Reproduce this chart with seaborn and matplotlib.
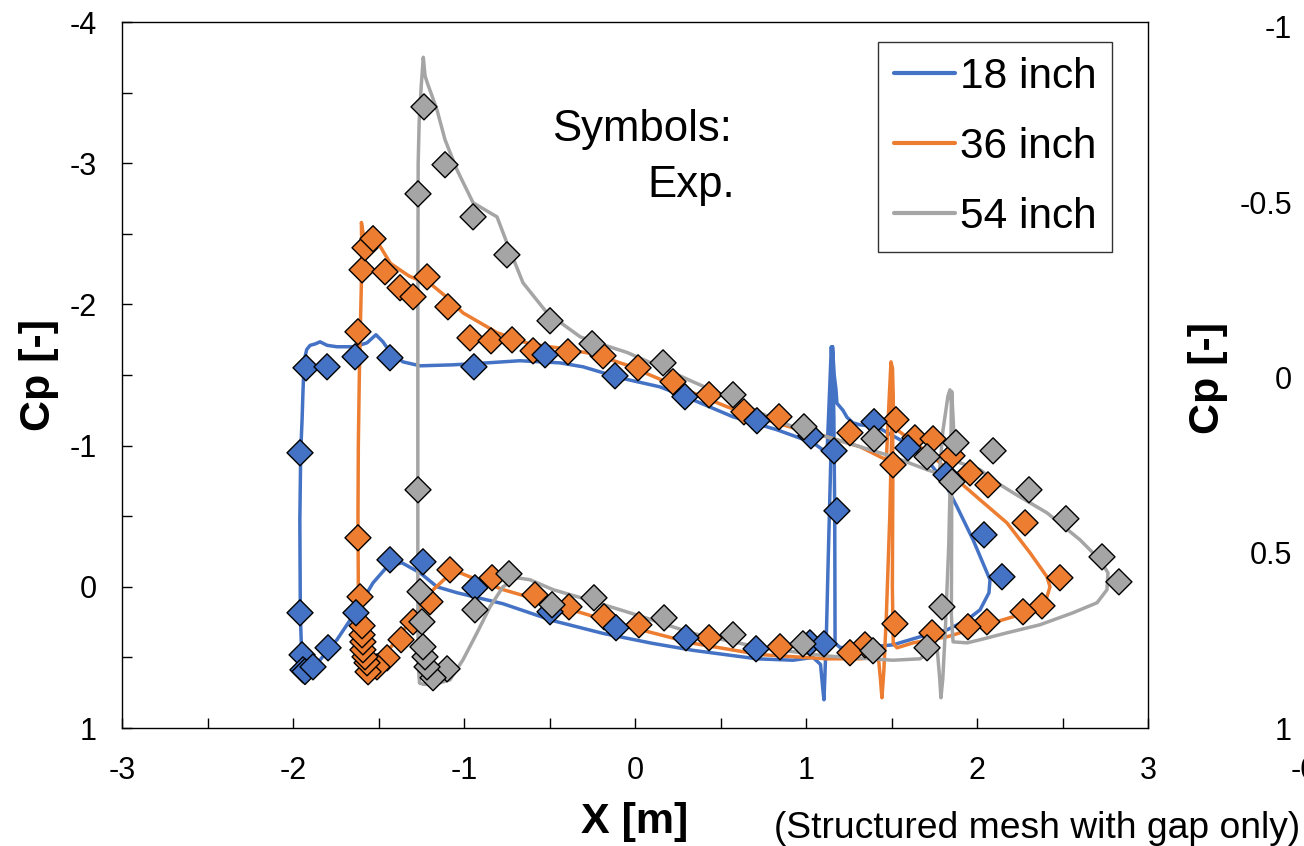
import numpy as np
import pandas as pd
import matplotlib
matplotlib.use("Agg")
import matplotlib.pyplot as plt
import seaborn as sns
from matplotlib.ticker import MultipleLocator, FixedLocator, FuncFormatter

# ---------------- data ----------------
series_names = ["18 inch", "36 inch", "54 inch"]
series_colors = ["#4472C4", "#ED7D31", "#A5A5A5"]

# CFD, 18 inch : tractor loop and trailer loop
cfd18_cab_x = [-1.93, -1.950, -1.957, -1.960, -1.955, -1.947, -1.942, -1.935, -1.920, -1.900, -1.870,
               -1.842, -1.800, -1.743, -1.637, -1.567, -1.515, -1.474, -1.433, -1.357, -1.257, -1.064,
               -0.865, -0.673, -0.439, -0.304, -0.088, 0.146, 0.339, 0.573, 0.830, 1.041, 1.123,
               1.140, 1.148, 1.152, 1.150, 1.145, 1.130, 1.120, 1.110, 1.105, 1.098, 1.085,
               1.041, 0.924, 0.713, 0.339, 0.100, -0.187, -0.480, -0.772, -1.041, -1.158, -1.257,
               -1.363, -1.450, -1.532, -1.626, -1.743, -1.850, -1.93]
cfd18_cab_cp = [0.60, 0.45, 0.20, -0.47, -0.95, -1.18, -1.37, -1.60, -1.68, -1.71, -1.72,
                -1.735, -1.71, -1.70, -1.70, -1.728, -1.785, -1.735, -1.664, -1.593, -1.565, -1.572,
                -1.586, -1.601, -1.586, -1.558, -1.480, -1.416, -1.324, -1.204, -1.112, -1.020, -0.949,
                -1.45, -1.70, -1.60, -1.30, -0.90, -0.20, 0.30, 0.65, 0.80, 0.72, 0.55,
                0.50, 0.52, 0.51, 0.45, 0.40, 0.33, 0.24, 0.12, 0.042, 0.0, -0.099,
                -0.170, -0.142, -0.028, 0.163, 0.375, 0.53, 0.60]
cfd18_trl_x = [1.155, 1.165, 1.175, 1.181, 1.216, 1.240, 1.275, 1.316, 1.415, 1.550, 1.708, 1.801,
               1.883, 1.977, 2.076, 2.070, 2.018, 1.942, 1.825, 1.667, 1.509, 1.316, 1.200, 1.170,
               1.168, 1.163, 1.155]
cfd18_trl_cp = [-1.70, -1.50, -1.40, -1.30, -1.25, -1.20, -1.161, -1.147, -1.133, -1.041, -0.899, -0.758,
                -0.567, -0.333, -0.050, 0.042, 0.163, 0.234, 0.305, 0.354, 0.411, 0.432, 0.43, 0.40,
                -0.50, -1.20, -1.70]

# CFD, 36 inch
cfd36_cab_x = [-1.58, -1.600, -1.612, -1.618, -1.620, -1.618, -1.612, -1.605, -1.600, -1.598, -1.600,
               -1.585, -1.560, -1.530, -1.490, -1.430, -1.320, -1.260, -1.200, -1.100, -1.006, -0.906,
               -0.807, -0.713, -0.614, -0.439, -0.246, -0.047, 0.146, 0.339, 0.538, 0.731, 0.924,
               1.123, 1.316, 1.433, 1.470, 1.485, 1.497, 1.505, 1.503, 1.490, 1.470, 1.455, 1.444,
               1.435, 1.425, 1.415, 1.316, 1.123, 0.731, 0.339, 0.020, -0.187, -0.380, -0.573,
               -0.772, -0.924, -1.023, -1.099, -1.199, -1.298, -1.392, -1.491, -1.567, -1.58]
cfd36_cab_cp = [0.62, 0.55, 0.40, 0.0, -0.5, -1.0, -1.5, -1.9, -2.15, -2.40, -2.58,
                -2.47, -2.45, -2.44, -2.41, -2.29, -2.20, -2.17, -2.15, -2.05, -1.94, -1.87,
                -1.80, -1.76, -1.72, -1.69, -1.65, -1.57, -1.47, -1.374, -1.275, -1.197, -1.126,
                -1.062, -0.992, -0.921, -0.90, -1.30, -1.593, -1.55, -1.20, -0.50, 0.20, 0.60, 0.786,
                0.65, 0.52, 0.50, 0.51, 0.51, 0.48, 0.40, 0.30, 0.23, 0.16, 0.09,
                0.02, -0.050, -0.099, -0.071, 0.042, 0.212, 0.375, 0.517, 0.609, 0.62]
cfd36_trl_x = [1.505, 1.510, 1.520, 1.532, 1.667, 1.784, 1.883, 2.018, 2.175, 2.310, 2.409, 2.427,
               2.409, 2.327, 2.211, 2.018, 1.825, 1.626, 1.532, 1.510, 1.505, 1.508, 1.505]
cfd36_trl_cp = [-1.55, -1.30, -1.15, -1.112, -0.992, -0.878, -0.758, -0.616, -0.453, -0.241, -0.071, 0.0,
                0.071, 0.163, 0.212, 0.283, 0.354, 0.397, 0.432, 0.40, 0.0, -0.80, -1.55]

# CFD, 54 inch
cfd54_cab_x = [-1.26, -1.268, -1.270, -1.270, -1.270, -1.268, -1.262, -1.250, -1.238, -1.228, -1.215,
               -1.185, -1.158, -1.111, -1.041, -0.947, -0.848, -0.807, -0.749, -0.655, -0.515, -0.320,
               -0.150, -0.047, 0.146, 0.339, 0.538, 0.731, 0.924, 1.123, 1.316, 1.509, 1.708, 1.780,
               1.800, 1.830, 1.842, 1.850, 1.848, 1.835, 1.815, 1.800, 1.789, 1.782, 1.770, 1.766,
               1.667, 1.509, 1.123, 0.731, 0.339, 0.012, -0.281, -0.480, -0.614, -0.690, -0.772,
               -0.848, -0.924, -1.006, -1.082, -1.181, -1.240, -1.26]
cfd54_cab_cp = [0.68, 0.55, 0.0, -1.0, -2.0, -3.0, -3.3, -3.55, -3.75, -3.62, -3.57,
                -3.47, -3.378, -3.166, -2.953, -2.720, -2.649, -2.620, -2.436, -2.153, -1.941, -1.77,
                -1.70, -1.66, -1.558, -1.452, -1.346, -1.232, -1.133, -1.062, -0.992, -0.921, -0.829, -0.80,
                -1.10, -1.35, -1.395, -1.30, -1.00, -0.30, 0.30, 0.65, 0.786, 0.65, 0.48, 0.425,
                0.51, 0.52, 0.49, 0.43, 0.33, 0.20, 0.09, 0.02, -0.050, -0.064, 0.0,
                0.142, 0.326, 0.517, 0.659, 0.694, 0.69, 0.68]
cfd54_trl_x = [1.852, 1.860, 1.870, 1.901, 2.018, 2.117, 2.211, 2.409, 2.602, 2.719, 2.766, 2.760,
               2.702, 2.561, 2.368, 2.175, 2.018, 1.942, 1.860, 1.850, 1.852, 1.852]
cfd54_trl_cp = [-1.38, -1.20, -0.95, -0.878, -0.829, -0.737, -0.666, -0.524, -0.333, -0.191, -0.099, 0.021,
                0.113, 0.184, 0.269, 0.326, 0.375, 0.397, 0.390, 0.20, -0.50, -1.38]

# Experiments (symbols)
exp18_x = [-1.924, -1.801, -1.637, -1.433, -0.942, -0.526, -0.117, 0.292, 0.713, 1.029, 1.164, 1.398,
           1.596, 1.819, 2.041, 2.146, -1.959, -1.959, -1.947, -1.942, -1.930, -1.883, -1.795, -1.632,
           -1.433, -1.240, -0.936, -0.497, -0.111, 0.298, 0.708, 1.023, 1.105, 1.181]
exp18_cp = [-1.551, -1.558, -1.629, -1.622, -1.558, -1.643, -1.494, -1.346, -1.176, -1.069, -0.963, -1.169,
            -0.984, -0.793, -0.368, -0.071, -0.949, 0.184, 0.482, 0.588, 0.600, 0.567, 0.432, 0.184,
            -0.191, -0.177, 0.007, 0.177, 0.290, 0.361, 0.439, 0.397, 0.404, -0.538]

exp36_x = [-1.620, -1.596, -1.579, -1.532, -1.462, -1.374, -1.298, -1.216, -1.094, -0.965, -0.842, -0.719,
           -0.596, -0.392, -0.187, 0.018, 0.222, 0.433, 0.637, 0.842, 1.257, 1.526, 1.509, 1.637,
           1.743, 1.854, 1.959, 2.064, 2.281, 2.485, 2.380, 2.269, 2.058, 1.947, 1.737, 1.520,
           1.345, 1.257, 0.848, 0.433, 0.023, -0.181, -0.386, -0.585, -0.836, -1.082, -1.199, -1.298,
           -1.368, -1.450, -1.509, -1.561, -1.567, -1.579, -1.591, -1.591, -1.596, -1.596, -1.608, -1.620]
exp36_cp = [-1.806, -2.245, -2.401, -2.465, -2.231, -2.118, -2.054, -2.195, -1.983, -1.763, -1.742, -1.749,
            -1.671, -1.664, -1.636, -1.551, -1.452, -1.360, -1.239, -1.204, -1.091, -1.183, -0.864, -1.055,
            -1.048, -0.928, -0.807, -0.722, -0.453, -0.064, 0.135, 0.177, 0.248, 0.283, 0.326, 0.262,
            0.411, 0.467, 0.425, 0.361, 0.269, 0.212, 0.142, 0.057, -0.064, -0.120, 0.106, 0.248,
            0.375, 0.503, 0.567, 0.602, 0.538, 0.496, 0.446, 0.390, 0.340, 0.276, 0.071, -0.347]

exp54_x = [-1.269, -1.269, -1.234, -1.111, -0.947, -0.749, -0.497, -0.251, 0.164, 0.573, 0.988, 1.398,
           1.708, 1.877, 1.854, 2.094, 2.304, 2.520, 2.731, 2.830, 1.795, 1.708, 1.392, 0.982,
           0.573, 0.170, -0.240, -0.485, -0.737, -0.936, -1.099, -1.181, -1.216, -1.228, -1.240, -1.246,
           -1.257]
exp54_cp = [-0.687, -2.783, -3.399, -2.989, -2.620, -2.351, -1.884, -1.721, -1.586, -1.360, -1.133, -1.048,
            -0.921, -1.020, -0.744, -0.963, -0.687, -0.482, -0.212, -0.035, 0.142, 0.432, 0.453, 0.404,
            0.340, 0.220, 0.078, 0.127, -0.092, 0.163, 0.581, 0.644, 0.567, 0.496, 0.425, 0.248,
            0.035]

x_ticks = [-3, -2, -1, 0, 1, 2, 3]
y_ticks = [-4, -3, -2, -1, 0, 1]
y2_ticks = [-1, -0.5, 0, 0.5, 1]

# ---------------- frames ----------------
def seg(x, cp, name, unit):
    return pd.DataFrame({"X": x, "Cp": cp, "series": name, "seg": unit})

lines = pd.concat([
    seg(cfd18_cab_x, cfd18_cab_cp, series_names[0], "18a"),
    seg(cfd18_trl_x, cfd18_trl_cp, series_names[0], "18b"),
    seg(cfd36_cab_x, cfd36_cab_cp, series_names[1], "36a"),
    seg(cfd36_trl_x, cfd36_trl_cp, series_names[1], "36b"),
    seg(cfd54_cab_x, cfd54_cab_cp, series_names[2], "54a"),
    seg(cfd54_trl_x, cfd54_trl_cp, series_names[2], "54b"),
], ignore_index=True)

exp = pd.concat([
    pd.DataFrame({"X": exp36_x, "Cp": exp36_cp, "series": series_names[1]}),
    pd.DataFrame({"X": exp18_x, "Cp": exp18_cp, "series": series_names[0]}),
    pd.DataFrame({"X": exp54_x, "Cp": exp54_cp, "series": series_names[2]}),
], ignore_index=True)

palette = dict(zip(series_names, series_colors))

# ---------------- plot ----------------
sns.set_style("white")
plt.rcParams["font.family"] = ["Liberation Sans", "DejaVu Sans"]
plt.rcParams["axes.unicode_minus"] = False
for k in ["text.color", "axes.labelcolor", "xtick.color", "ytick.color", "axes.edgecolor"]:
    plt.rcParams[k] = "black"

W, H = 1304, 846
fig = plt.figure(figsize=(W / 100, H / 100), dpi=100)
ax = fig.add_axes([122 / W, 1 - 728 / H, (1148 - 122) / W, (728 - 22) / H])

sns.lineplot(data=lines, x="X", y="Cp", hue="series", hue_order=series_names, units="seg",
             estimator=None, sort=False, palette=palette, linewidth=2.5, ax=ax, legend=True)
sns.scatterplot(data=exp, x="X", y="Cp", hue="series", palette=palette, marker="D", s=175,
                edgecolor="black", linewidth=1.0, legend=False, ax=ax, zorder=3)

ax.set_xlim(-3, 3)
ax.set_ylim(1, -4)
ax.xaxis.set_major_locator(FixedLocator(x_ticks))
ax.yaxis.set_major_locator(FixedLocator(y_ticks))
ax.xaxis.set_minor_locator(MultipleLocator(0.5))
ax.yaxis.set_minor_locator(MultipleLocator(0.5))
fmt = FuncFormatter(lambda v, p: "%g" % v)
ax.xaxis.set_major_formatter(fmt)
ax.yaxis.set_major_formatter(fmt)
ax.tick_params(axis="both", which="both", direction="in", length=7, width=1, color="black",
               labelsize=22, labelcolor="black", top=False, right=False, bottom=True, left=True)
ax.tick_params(axis="x", which="major", pad=20)
ax.tick_params(axis="y", which="major", pad=18)
for s in ax.spines.values():
    s.set_color("black")
    s.set_linewidth(1.0)

ax.set_xlabel("X [m]", fontsize=31, fontweight="bold", labelpad=12, color="black")
ax.set_ylabel("Cp [-]", fontsize=31, fontweight="bold", labelpad=8, color="black")

handles, labels = ax.get_legend_handles_labels()
leg = ax.legend(handles, labels, loc="upper right", bbox_to_anchor=(1112 / W, 1 - 42 / H),
                bbox_transform=fig.transFigure, frameon=True, fancybox=False, fontsize=30.5,
                handlelength=1.45, handletextpad=0.12, labelspacing=0.7, borderpad=0.36,
                borderaxespad=0)
leg.get_frame().set_edgecolor("black")
leg.get_frame().set_linewidth(1.0)
for h in leg.get_lines():
    h.set_linewidth(3)
for t in leg.get_texts():
    t.set_color("black")

fig.text(552 / W, 1 - 130 / H, "Symbols:", fontsize=31.5, ha="left", va="center", color="black")
fig.text(735 / W, 1 - 185 / H, "Exp.", fontsize=31.5, ha="right", va="center", color="black")
fig.text(1300 / W, 1 - 828 / H, "(Structured mesh with gap only)", fontsize=26.8, ha="right",
         va="center", color="black")

# second (cut-off) panel on the right
ax2 = fig.add_axes([1317 / W, 1 - 728 / H, 0.5, (728 - 27) / H])
ax2.set_xlim(-0.5, 0.5)
ax2.set_ylim(1, -1)
ax2.xaxis.set_major_locator(FixedLocator([-0.5]))
ax2.yaxis.set_major_locator(FixedLocator(y2_ticks))
ax2.xaxis.set_major_formatter(fmt)
ax2.yaxis.set_major_formatter(fmt)
ax2.tick_params(axis="both", which="both", direction="in", length=7, labelsize=22,
                labelcolor="black", bottom=True, left=True)
ax2.tick_params(axis="x", pad=20)
ax2.tick_params(axis="y", pad=18)
ax2.set_ylabel("Cp [-]", fontsize=31, fontweight="bold", labelpad=8, color="black")

fig.savefig("out.png", dpi=100)
